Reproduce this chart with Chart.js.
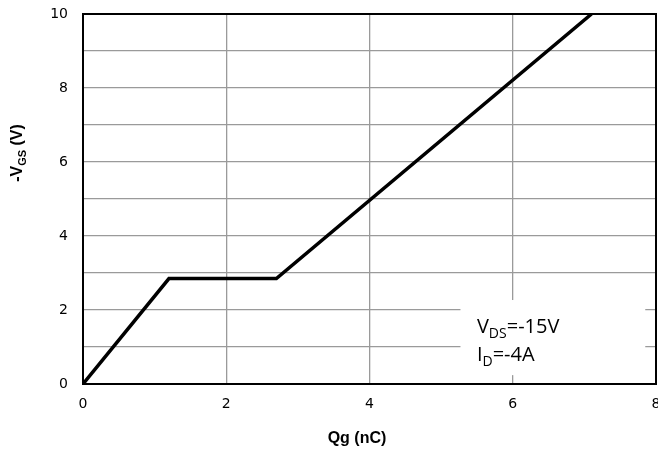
<!DOCTYPE html>
<html lang="en">
<head>
  <meta charset="UTF-8">
  <title>Gate charge</title>
  <style>
    html, body { margin: 0; padding: 0; background: #fff; }
    .container { width: 658px; height: 450px; position: relative; }
  </style>
  <script src="https://cdn.jsdelivr.net/npm/chart.js@4.4.1/dist/chart.umd.min.js"></script>
</head>
<body>
  <div class="container">
    <canvas id="myChart" width="658" height="450"></canvas>
  </div>

  <script>
    // Data
    const qg = [0, 1.2, 2.7, 7.1];        // nC
    const vgs = [0, 2.85, 2.85, 10];      // -V
    const xTicks = [0, 2, 4, 6, 8];
    const yTicks = [0, 2, 4, 6, 8, 10];

    const points = qg.map((x, i) => ({ x: x, y: vgs[i] }));

    // draw text with a subscript part: [[text, isSub], ...]
    function drawRich(ctx, parts, x, y, size, bold, family) {
      let cx = x;
      parts.forEach(([t, sub]) => {
        const s = sub ? Math.round(size * 0.68) : size;
        ctx.font = (bold ? 'bold ' : '') + s + 'px ' + family;
        ctx.fillText(t, cx, y + (sub ? size * 0.25 : 0));
        cx += ctx.measureText(t).width;
      });
      return cx - x;
    }
    function richWidth(ctx, parts, size, bold, family) {
      let w = 0;
      parts.forEach(([t, sub]) => {
        const s = sub ? Math.round(size * 0.68) : size;
        ctx.font = (bold ? 'bold ' : '') + s + 'px ' + family;
        w += ctx.measureText(t).width;
      });
      return w;
    }

    const extras = {
      id: 'extras',
      beforeDatasetsDraw(chart) {
        const { ctx, scales: { x, y } } = chart;
        // white box behind the conditions text
        ctx.save();
        ctx.fillStyle = '#fff';
        const x0 = x.getPixelForValue(5.27), x1 = x.getPixelForValue(7.85);
        const y0 = y.getPixelForValue(2.27), y1 = y.getPixelForValue(0.24);
        ctx.fillRect(x0, y0, x1 - x0, y1 - y0);
        ctx.restore();
      },
      afterDraw(chart) {
        const { ctx, chartArea: a, scales: { x, y } } = chart;
        ctx.save();
        // frame
        ctx.strokeStyle = '#000';
        ctx.lineWidth = 2;
        ctx.strokeRect(a.left, a.top, a.right - a.left, a.bottom - a.top);

        // conditions text
        ctx.fillStyle = '#000';
        ctx.textBaseline = 'alphabetic';
        ctx.textAlign = 'left';
        const tx = x.getPixelForValue(5.5);
        const fam = '"Open Sans", "Liberation Sans", sans-serif';
        drawRich(ctx, [['V', false], ['DS', true], ['=-15V', false]], tx, 333, 20, false, fam);
        drawRich(ctx, [['I', false], ['D', true], ['=-4A', false]], tx, 361, 20, false, fam);

        // x title
        const tf = '"Liberation Sans", Arial, sans-serif';
        ctx.font = 'bold 16px ' + tf;
        ctx.textAlign = 'center';
        ctx.fillText('Qg (nC)', 357, 443);

        // y title (rotated)
        const yParts = [['-V', false], ['GS', true], [' (V)', false]];
        const w = richWidth(ctx, yParts, 16, true, tf);
        ctx.translate(22, 153);
        ctx.rotate(-Math.PI / 2);
        ctx.textAlign = 'left';
        drawRich(ctx, yParts, -w / 2, 0, 16, true, tf);
        ctx.restore();
      }
    };

    const ctx = document.getElementById('myChart').getContext('2d');
    const chart = new Chart(ctx, {
      type: 'scatter',
      data: {
        datasets: [{
          data: points,
          showLine: true,
          borderColor: '#000',
          borderWidth: 3.5,
          pointRadius: 0,
          tension: 0
        }]
      },
      options: {
        responsive: false,
        animation: false,
        layout: { padding: { top: 14, right: 2, left: 0, bottom: 0 } },
        plugins: {
          legend: { display: false },
          tooltip: { enabled: false }
        },
        scales: {
          x: {
            type: 'linear',
            min: 0,
            max: 8,
            afterBuildTicks: (s) => { s.ticks = xTicks.map(v => ({ value: v })); },
            afterFit: (s) => { s.height = 66; s.paddingLeft = 0; s.paddingRight = 0; },
            grid: { color: '#9a9a9a', lineWidth: 1.3, drawTicks: false },
            border: { display: false },
            ticks: {
              padding: 12,
              color: '#000',
              font: { family: '"DejaVu Sans", Verdana, sans-serif', size: 14 },
              maxRotation: 0
            }
          },
          y: {
            type: 'linear',
            min: 0,
            max: 10,
            afterBuildTicks: (s) => {
              const t = [];
              for (let v = 0; v <= 10; v++) t.push({ value: v });
              s.ticks = t;
            },
            afterFit: (s) => { s.width = 83; s.paddingTop = 0; s.paddingBottom = 0; },
            grid: { color: '#9a9a9a', lineWidth: 1.3, drawTicks: false },
            border: { display: false },
            ticks: {
              padding: 15,
              color: '#000',
              font: { family: '"DejaVu Sans", Verdana, sans-serif', size: 14 },
              callback: (v) => yTicks.includes(v) ? String(v) : ''
            }
          }
        }
      },
      plugins: [extras]
    });
  </script>
</body>
</html>
